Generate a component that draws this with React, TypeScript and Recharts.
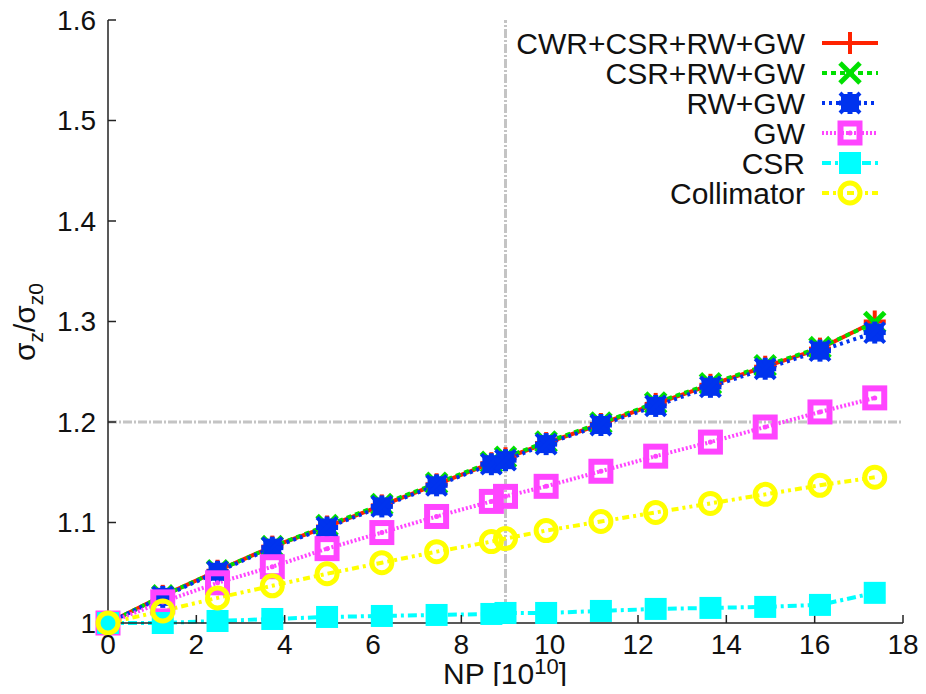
import React from 'react';
import { LineChart, Line, XAxis, YAxis, ReferenceLine } from 'recharts';

const npValues = [0, 1.24, 2.48, 3.72, 4.96, 6.2, 7.44, 8.68, 9.0, 9.92, 11.16, 12.4, 13.64, 14.88, 16.12, 17.36];
const cwrCsrRwGw = [1.0, 1.027, 1.052, 1.076, 1.096, 1.117, 1.138, 1.159, 1.164, 1.179, 1.198, 1.218, 1.237, 1.255, 1.273, 1.300];
const csrRwGw = [1.0, 1.027, 1.052, 1.076, 1.097, 1.118, 1.139, 1.160, 1.165, 1.180, 1.199, 1.219, 1.238, 1.256, 1.274, 1.299];
const rwGw = [1.0, 1.026, 1.051, 1.075, 1.095, 1.116, 1.137, 1.158, 1.162, 1.178, 1.197, 1.216, 1.235, 1.253, 1.271, 1.289];
const gw = [1.0, 1.021, 1.040, 1.056, 1.074, 1.090, 1.106, 1.121, 1.126, 1.136, 1.151, 1.166, 1.180, 1.195, 1.210, 1.224];
const csr = [1.0, 1.0, 1.002, 1.004, 1.006, 1.007, 1.008, 1.009, 1.01, 1.01, 1.012, 1.014, 1.015, 1.016, 1.018, 1.03];
const collimator = [1.0, 1.012, 1.025, 1.037, 1.049, 1.060, 1.071, 1.081, 1.084, 1.092, 1.101, 1.110, 1.119, 1.128, 1.137, 1.145];

const xTicks = [0, 2, 4, 6, 8, 10, 12, 14, 16, 18];
const yTicks = [1, 1.1, 1.2, 1.3, 1.4, 1.5, 1.6];
const refX = 9;
const refY = 1.2;

type Kind = 'plus' | 'cross' | 'star' | 'openSquare' | 'square' | 'circle';

const series = [
  { key: 'cwr', name: 'CWR+CSR+RW+GW', values: cwrCsrRwGw, color: '#ff2200', dash: undefined as string | undefined, width: 4, kind: 'plus' as Kind },
  { key: 'csrrwgw', name: 'CSR+RW+GW', values: csrRwGw, color: '#00e000', dash: '5 4', width: 4, kind: 'cross' as Kind },
  { key: 'rwgw', name: 'RW+GW', values: rwGw, color: '#0033ee', dash: '3 4', width: 4, kind: 'star' as Kind },
  { key: 'gw', name: 'GW', values: gw, color: '#ff44ff', dash: '2 2', width: 4, kind: 'openSquare' as Kind },
  { key: 'csr', name: 'CSR', values: csr, color: '#00ffff', dash: '9 4 3 4', width: 4, kind: 'square' as Kind },
  { key: 'coll', name: 'Collimator', values: collimator, color: '#ffff00', dash: '7 4 3 4 3 4', width: 4, kind: 'circle' as Kind },
];

const data = npValues.map((np, i) => {
  const row: Record<string, number> = { np };
  series.forEach((s) => { row[s.key] = s.values[i]; });
  return row;
});

function Marker({ kind, cx, cy, color }: { kind: Kind; cx: number; cy: number; color: string }) {
  if (cx == null || cy == null || isNaN(cx) || isNaN(cy)) return null;
  switch (kind) {
    case 'plus':
      return (
        <g>
          <line x1={cx - 11} y1={cy} x2={cx + 11} y2={cy} stroke={color} strokeWidth={4} />
          <line x1={cx} y1={cy - 11} x2={cx} y2={cy + 11} stroke={color} strokeWidth={4} />
        </g>
      );
    case 'cross':
      return (
        <g>
          <line x1={cx - 10} y1={cy - 10} x2={cx + 10} y2={cy + 10} stroke={color} strokeWidth={5} />
          <line x1={cx - 10} y1={cy + 10} x2={cx + 10} y2={cy - 10} stroke={color} strokeWidth={5} />
        </g>
      );
    case 'star':
      return (
        <g>
          <rect x={cx - 9} y={cy - 9} width={18} height={18} fill={color} />
          <line x1={cx - 11} y1={cy} x2={cx + 11} y2={cy} stroke={color} strokeWidth={5} />
          <line x1={cx} y1={cy - 11} x2={cx} y2={cy + 11} stroke={color} strokeWidth={5} />
          <line x1={cx - 10} y1={cy - 10} x2={cx + 10} y2={cy + 10} stroke={color} strokeWidth={4} />
          <line x1={cx - 10} y1={cy + 10} x2={cx + 10} y2={cy - 10} stroke={color} strokeWidth={4} />
        </g>
      );
    case 'openSquare':
      return (
        <g>
          <rect x={cx - 9.5} y={cy - 9.5} width={19} height={19} fill="none" stroke={color} strokeWidth={6} />
          <circle cx={cx} cy={cy} r={2.5} fill={color} />
        </g>
      );
    case 'square':
      return <rect x={cx - 11} y={cy - 11} width={22} height={22} fill={color} />;
    case 'circle':
      return <circle cx={cx} cy={cy} r={10} fill="none" stroke={color} strokeWidth={5} />;
  }
  return null;
}

const FONT = '"Liberation Sans", Arial, Helvetica, sans-serif';
const axisStroke = { stroke: '#222', strokeWidth: 1.5 };
const tickStyle = { fontSize: 28, fill: '#111', fontFamily: FONT };

export default function App() {
  return (
    <div style={{ position: 'relative', width: 910, height: 686, marginTop: -8, fontFamily: FONT }}>
      <LineChart
        width={910}
        height={686}
        data={data}
        margin={{ top: 20, right: 15, left: 0, bottom: 0 }}
        style={{ fontFamily: FONT, overflow: 'visible' }}
      >
        <XAxis
          xAxisId="b"
          dataKey="np"
          type="number"
          domain={[0, 18]}
          ticks={xTicks}
          height={63}
          axisLine={axisStroke}
          tickLine={axisStroke}
          tickSize={-8}
          tickMargin={19}
          tick={tickStyle}
          interval={0}
        />
        <XAxis
          xAxisId="t"
          orientation="top"
          dataKey="np"
          type="number"
          domain={[0, 18]}
          ticks={xTicks}
          height={0}
          axisLine={axisStroke}
          tickLine={axisStroke}
          tickSize={-8}
          tick={false}
        />
        <YAxis
          yAxisId="l"
          type="number"
          domain={[1, 1.6]}
          ticks={yTicks}
          width={100}
          axisLine={axisStroke}
          tickLine={axisStroke}
          tickSize={-8}
          tickMargin={20}
          tick={tickStyle}
          interval={0}
          tickFormatter={(v: number) => String(Math.round(v * 10) / 10)}
        />
        <YAxis
          yAxisId="r"
          orientation="right"
          type="number"
          domain={[1, 1.6]}
          ticks={yTicks}
          width={0}
          axisLine={axisStroke}
          tickLine={axisStroke}
          tickSize={-8}
          tick={false}
        />
        <ReferenceLine xAxisId="b" yAxisId="l" y={refY} stroke="#c4c4c4" strokeWidth={3} strokeDasharray="9 2 2 2" />
        <ReferenceLine xAxisId="b" yAxisId="l" x={refX} stroke="#c4c4c4" strokeWidth={3} strokeDasharray="9 2 2 2" />
        <Line
          xAxisId="t"
          yAxisId="r"
          dataKey="cwr"
          stroke="none"
          dot={false}
          legendType="none"
          isAnimationActive={false}
        />
        {series.map((s) => (
          <Line
            key={s.key}
            xAxisId="b"
            yAxisId="l"
            type="linear"
            dataKey={s.key}
            name={s.name}
            stroke={s.color}
            strokeWidth={s.width}
            strokeDasharray={s.dash}
            isAnimationActive={false}
            dot={(p: any) => <Marker key={`${s.key}-${p.index}`} kind={s.kind} cx={p.cx} cy={p.cy} color={s.color} />}
            activeDot={false}
          />
        ))}
      </LineChart>
      <svg
        width={910}
        height={686}
        style={{ position: 'absolute', left: 0, top: 0, overflow: 'visible', pointerEvents: 'none' }}
      >
        {series.map((s, i) => {
          const y = 43 + i * 30;
          return (
            <g key={s.key}>
              <text x={797} y={y} dy="0.36em" textAnchor="end" fontSize={30} fill="#111" fontFamily={FONT}>
                {s.name}
              </text>
              <line x1={814} y1={y} x2={870} y2={y} stroke={s.color} strokeWidth={s.width} strokeDasharray={s.dash} />
              <Marker kind={s.kind} cx={842} cy={y} color={s.color} />
            </g>
          );
        })}
        <text
          transform="translate(27,322) rotate(-90)"
          textAnchor="middle"
          fontSize={30}
          fill="#111"
          fontFamily={FONT}
        >
          σ<tspan fontSize={21} dy={8}>z</tspan>
          <tspan dy={-8}>/σ</tspan>
          <tspan fontSize={21} dy={8}>z0</tspan>
        </text>
        <text x={497} y={684} textAnchor="middle" fontSize={30} fill="#111" fontFamily={FONT}>
          NP [10<tspan fontSize={22} dy={-10}>10</tspan>
          <tspan dy={10}>]</tspan>
        </text>
      </svg>
    </div>
  );
}
